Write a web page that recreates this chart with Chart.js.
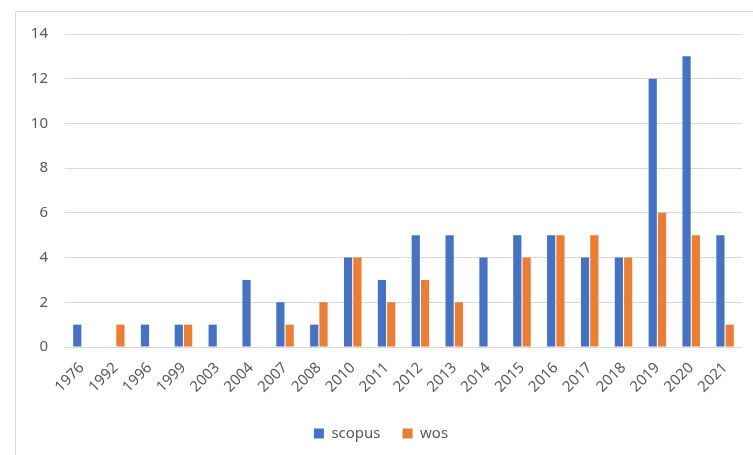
<!DOCTYPE html>
<html>
<head>
<meta charset="utf-8">
<script src="https://cdn.jsdelivr.net/npm/chart.js@4.4.0/dist/chart.umd.min.js"></script>
<style>
  html, body { margin: 0; padding: 0; background: #fff; }
  #frame { position: absolute; left: 15px; top: 11px; width: 760px; height: 460px; border: 1px solid #d9d9d9; }
  #wrap { position: absolute; left: 0; top: 0; width: 753px; height: 455px; }
</style>
</head>
<body>
<div id="frame"></div>
<div id="wrap"><canvas id="chart" width="753" height="455"></canvas></div>
<script>
// Chart data
const years = ["1976", "1992", "1996", "1999", "2003", "2004", "2007", "2008", "2010", "2011",
               "2012", "2013", "2014", "2015", "2016", "2017", "2018", "2019", "2020", "2021"];
const scopus = [1, 0, 1, 1, 1, 3, 2, 1, 4, 3, 5, 5, 4, 5, 5, 4, 4, 12, 13, 5];
const wos    = [0, 1, 0, 1, 0, 0, 1, 2, 4, 2, 3, 2, 0, 4, 5, 5, 4, 6, 5, 1];
const yTicks = [0, 2, 4, 6, 8, 10, 12, 14];

const textColor = "#595959";
const font = { family: "'Noto Sans', 'Open Sans', sans-serif", size: 15 };

new Chart(document.getElementById("chart"), {
    type: "bar",
    data: {
        labels: years,
        datasets: [
            { label: "scopus", data: scopus, backgroundColor: "#4472C4",
              categoryPercentage: 0.55, barPercentage: 0.88 },
            { label: "wos", data: wos, backgroundColor: "#ED7D31",
              categoryPercentage: 0.55, barPercentage: 0.88 }
        ]
    },
    options: {
        responsive: false,
        animation: false,
        layout: { padding: { left: 20, right: 11, top: 34, bottom: 4 } },
        plugins: {
            legend: {
                position: "bottom",
                labels: { color: textColor, font: font, boxWidth: 10, boxHeight: 10, padding: 22 }
            },
            tooltip: { enabled: false }
        },
        scales: {
            x: {
                grid: { display: false },
                border: { display: false },
                ticks: { color: textColor, font: font, minRotation: 45, maxRotation: 45, padding: 4 },
                afterFit: (s) => { s.height = 57; }
            },
            y: {
                min: 0,
                max: 14,
                afterBuildTicks: (s) => { s.ticks = yTicks.map(v => ({ value: v })); },
                grid: { color: "#d9d9d9", lineWidth: 1, drawTicks: false },
                border: { display: false },
                ticks: { color: textColor, font: font, padding: 17 },
                afterFit: (s) => { s.width = 45; }
            }
        }
    }
});
</script>
</body>
</html>
